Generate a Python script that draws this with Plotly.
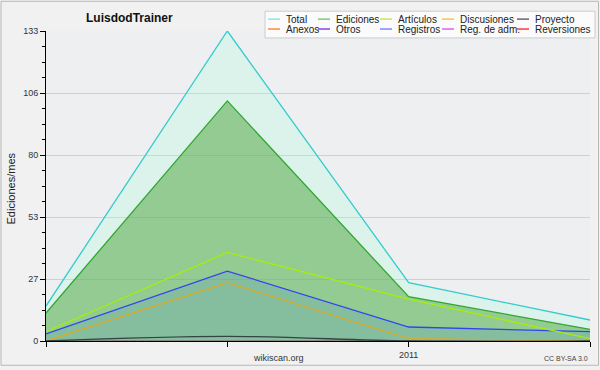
import plotly.graph_objects as go

# ---------------- data ----------------
months = [0, 1, 2, 3]
month_labels = ["", "", "2011", ""]
total = [15, 133, 25, 9]
ediciones = [12, 103, 19, 5]
articulos = [4, 38, 18, 1]
discusiones = [0, 25, 1, 0]
proyecto = [0, 2, 0, 0]
anexos = [0, 0, 0, 0]
otros = [0, 0, 0, 0]
registros = [3, 30, 6, 4]
reg_adm = [0, 0, 0, 0]
reversiones = [0, 0, 0, 0]

ytick_vals = [0, 26.6, 53.2, 79.8, 106.4, 133]
ytick_text = ["0", "27", "53", "80", "106", "133"]

legend_names = ["Total", "Ediciones", "Artículos", "Discusiones", "Proyecto",
                "Anexos", "Otros", "Registros", "Reg. de adm.", "Reversiones"]
legend_colors = ["#8fe3e0", "#77c977", "#c4ec44", "#f3c94a", "#666666",
                 "#ff8a3d", "#8a44ee", "#7f86ff", "#e060ee", "#ff3b3b"]

# ---------------- geometry helpers ----------------
W, H = 600, 370
L, R, T, B = 46, 10, 31, 26
PW, PH = W - L - R, H - T - B


def px(x):
    return (x - L) / PW


def py(y):
    return (H - B - y) / PH


FONT = "Liberation Sans, Arial, sans-serif"

fig = go.Figure()

# zero series (under everything)
for vals, col, name in [(anexos, "#ff8833", "Anexos"), (otros, "#8833ee", "Otros"),
                        (reg_adm, "#dd44ee", "Reg. de adm."), (reversiones, "#ff3333", "Reversiones")]:
    fig.add_trace(go.Scatter(x=months, y=vals, mode="lines", name=name,
                             line=dict(color=col, width=1), showlegend=False))

fig.add_trace(go.Scatter(x=months, y=total, mode="lines", name="Total", fill="tozeroy",
                         fillcolor="rgba(166,255,221,0.25)",
                         line=dict(color="#33cccc", width=1.3), showlegend=False))
fig.add_trace(go.Scatter(x=months, y=ediciones, mode="lines", name="Ediciones", fill="tozeroy",
                         fillcolor="rgba(74,163,60,0.5)",
                         line=dict(color="#2fa82f", width=1.3), showlegend=False))
fig.add_trace(go.Scatter(x=months, y=registros, mode="lines", name="Registros", fill="tozeroy",
                         fillcolor="rgba(54,123,228,0.15)",
                         line=dict(color="#3344ee", width=1.3), showlegend=False))
fig.add_trace(go.Scatter(x=months, y=articulos, mode="lines", name="Artículos",
                         line=dict(color="#a6ee0a", width=1.3), showlegend=False))
fig.add_trace(go.Scatter(x=months, y=discusiones, mode="lines", name="Discusiones",
                         line=dict(color="#ddaa22", width=1.2), showlegend=False))
fig.add_trace(go.Scatter(x=months, y=proyecto, mode="lines", name="Proyecto",
                         line=dict(color="#334444", width=1.3, shape="spline"), showlegend=False))

shapes = []
annotations = []

# outer frame
shapes.append(dict(type="rect", xref="paper", yref="paper",
                   x0=px(1), x1=px(598.5), y0=py(1), y1=py(368.5),
                   line=dict(color="#b8b8b8", width=1), fillcolor="rgba(0,0,0,0)", layer="above"))

# custom legend box
shapes.append(dict(type="rect", xref="paper", yref="paper",
                   x0=px(265), x1=px(595), y0=py(11), y1=py(38),
                   line=dict(color="#cccccc", width=1), fillcolor="#fbfbfb", layer="above"))
col_x = [268, 318, 380, 442, 517]
row_y = [19, 29]
for i, (name, col) in enumerate(zip(legend_names, legend_colors)):
    r, c = divmod(i, 5)
    x0 = col_x[c]
    y = row_y[r]
    shapes.append(dict(type="line", xref="paper", yref="paper",
                       x0=px(x0), x1=px(x0 + 12), y0=py(y), y1=py(y),
                       line=dict(color=col, width=1.5), layer="above"))
    annotations.append(dict(text=name, xref="paper", yref="paper",
                            x=px(x0 + 16), y=py(y), xanchor="left", yanchor="middle",
                            showarrow=False, font=dict(family=FONT, size=10, color="#222222")))

# title
annotations.append(dict(text="<b>LuisdodTrainer</b>", xref="paper", yref="paper",
                        x=px(84), y=py(18), xanchor="left", yanchor="middle", showarrow=False,
                        font=dict(family=FONT, size=12, color="#111111")))
# y title
annotations.append(dict(text="Ediciones/mes", xref="paper", yref="paper",
                        x=px(11), y=py(190), xanchor="center", yanchor="middle", textangle=-90,
                        showarrow=False, font=dict(family=FONT, size=11, color="#222222")))
# footer
annotations.append(dict(text="wikiscan.org", xref="paper", yref="paper",
                        x=px(278), y=py(361), xanchor="center", yanchor="middle", showarrow=False,
                        font=dict(family=FONT, size=9, color="#333333")))
annotations.append(dict(text="CC BY-SA 3.0", xref="paper", yref="paper",
                        x=px(590), y=py(362), xanchor="right", yanchor="middle", showarrow=False,
                        font=dict(family=FONT, size=7, color="#444444")))

fig.update_layout(
    width=W, height=H,
    margin=dict(l=L, r=R, t=T, b=B, pad=0),
    paper_bgcolor="#f1f1f1",
    plot_bgcolor="#eeeff1",
    showlegend=False,
    shapes=shapes,
    annotations=annotations,
    xaxis=dict(range=[0, 3], tickvals=months, ticktext=month_labels,
               showgrid=False, zeroline=False, showline=True, linecolor="#000000", linewidth=1,
               ticks="outside", ticklen=5, tickcolor="#000000",
               tickfont=dict(family=FONT, size=9, color="#333333"), layer="above traces",
               fixedrange=True),
    yaxis=dict(range=[0, 133], tickvals=ytick_vals, ticktext=ytick_text,
               showgrid=True, gridcolor="#d0d0d0", gridwidth=1, zeroline=False,
               showline=True, linecolor="#000000", linewidth=1,
               ticks="outside", ticklen=5, tickcolor="#000000",
               minor=dict(dtick=6.65, tick0=0, ticks="outside", ticklen=3, tickcolor="#000000",
                          showgrid=False),
               tickfont=dict(family=FONT, size=9, color="#333333"), layer="above traces",
               fixedrange=True),
)

post = ("document.documentElement.style.margin='0';document.documentElement.style.overflow='hidden';"
        "document.body.style.margin='0';document.body.style.padding='0';document.body.style.overflow='hidden';")
fig.write_html("out.html", config={"displayModeBar": False}, post_script=post)
